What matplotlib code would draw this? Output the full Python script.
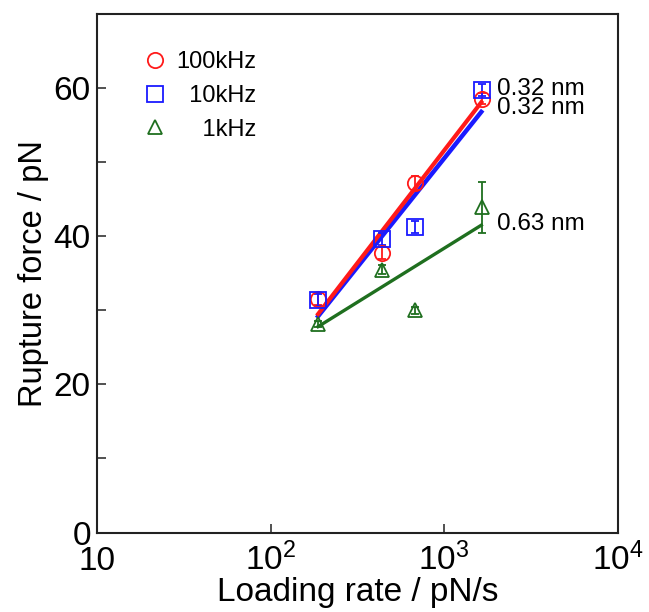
import matplotlib
matplotlib.use("Agg")
import matplotlib.pyplot as plt
from matplotlib.lines import Line2D
import numpy as np

plt.rcParams['font.family'] = ['Liberation Sans', 'DejaVu Sans']
plt.rcParams['mathtext.default'] = 'regular'

# loading rate [pN/s] and rupture force [pN]
rate = np.array([188, 439, 681, 1656])
f_100k = np.array([31.5, 37.8, 47.2, 58.6])
e_100k = np.array([0.8, 0.8, 1.0, 0.8])
f_10k = np.array([31.4, 39.6, 41.2, 59.7])
e_10k = np.array([0.8, 0.8, 0.8, 0.8])
f_1k = np.array([28.1, 35.5, 30.0, 43.9])
e_1k = np.array([0.4, 0.6, 0.5, 3.4])

# Bell-Evans fit lines (end points)
fit_rate = np.array([188, 1640])
fit_100k = np.array([29.5, 58.1])
fit_10k = np.array([29.2, 56.8])
fit_1k = np.array([27.8, 41.5])

xb_labels = ['0.32 nm', '0.32 nm', '0.63 nm']
xb_label_y = [59.9, 57.3, 41.6]
xb_label_x = 2020

legend_labels = ['100kHz', '  10kHz', '    1kHz']
xticks = [10, 100, 1000, 10000]
xtick_labels = ['10', '$10^2$', '$10^3$', '$10^4$']

red, blue, green = '#ff1a1a', '#1a1aff', '#1f6f1f'

fig = plt.figure(figsize=(6.49, 6.12), dpi=100)
ax = fig.add_axes([0.1495, 0.1299, 0.802, 0.847])

ax.plot(fit_rate, fit_10k, color=blue, lw=3.2, zorder=2)
ax.plot(fit_rate, fit_100k, color=red, lw=3.0, zorder=3)
ax.plot(fit_rate, fit_1k, color=green, lw=2.4, zorder=2)

kw = dict(ls='', mfc='none', mew=1.3, capsize=3, elinewidth=1.3, capthick=1.3, zorder=4)
ax.errorbar(rate, f_1k, yerr=e_1k, marker='^', ms=10, color=green, **kw)
ax.errorbar(rate, f_100k, yerr=e_100k, marker='o', ms=11, color=red, **kw)
ax.errorbar(rate, f_10k, yerr=e_10k, marker='s', ms=11, color=blue, **kw)

for txt, y in zip(xb_labels, xb_label_y):
    ax.text(xb_label_x, y, txt, fontsize=17.5, ha='left', va='center')

handles = [Line2D([], [], ls='', marker='o', ms=11, mfc='none', mew=1.3, color=red),
           Line2D([], [], ls='', marker='s', ms=11, mfc='none', mew=1.3, color=blue),
           Line2D([], [], ls='', marker='^', ms=10, mfc='none', mew=1.3, color=green)]
ax.legend(handles, legend_labels, loc='upper left', bbox_to_anchor=(0.071, 0.947),
          frameon=False, fontsize=17, handlelength=1.0, handletextpad=0.4,
          labelspacing=0.5, borderaxespad=0)

ax.set_xscale('log')
ax.set_xlim(10, 1e4)
ax.set_ylim(0, 70)
ax.set_xticks(xticks)
ax.set_xticklabels(xtick_labels)
ax.xaxis.set_minor_locator(matplotlib.ticker.NullLocator())
ax.set_yticks([0, 20, 40, 60])
ax.set_yticks([10, 30, 50], minor=True)

ax.tick_params(which='both', direction='in', length=6.5, width=1.2, color='#333333',
               labelsize=24)
ax.tick_params(axis='y', pad=4.5)
ax.tick_params(axis='x', pad=27)
for lbl in ax.get_xticklabels():
    lbl.set_verticalalignment('baseline')
for s in ax.spines.values():
    s.set_linewidth(1.5)
    s.set_color('#222222')

ax.set_xlabel('Loading rate / pN/s', fontsize=24, labelpad=0)
ax.set_ylabel('Rupture force / pN', fontsize=23.5, labelpad=3)

fig.savefig('out.png', dpi=100)
